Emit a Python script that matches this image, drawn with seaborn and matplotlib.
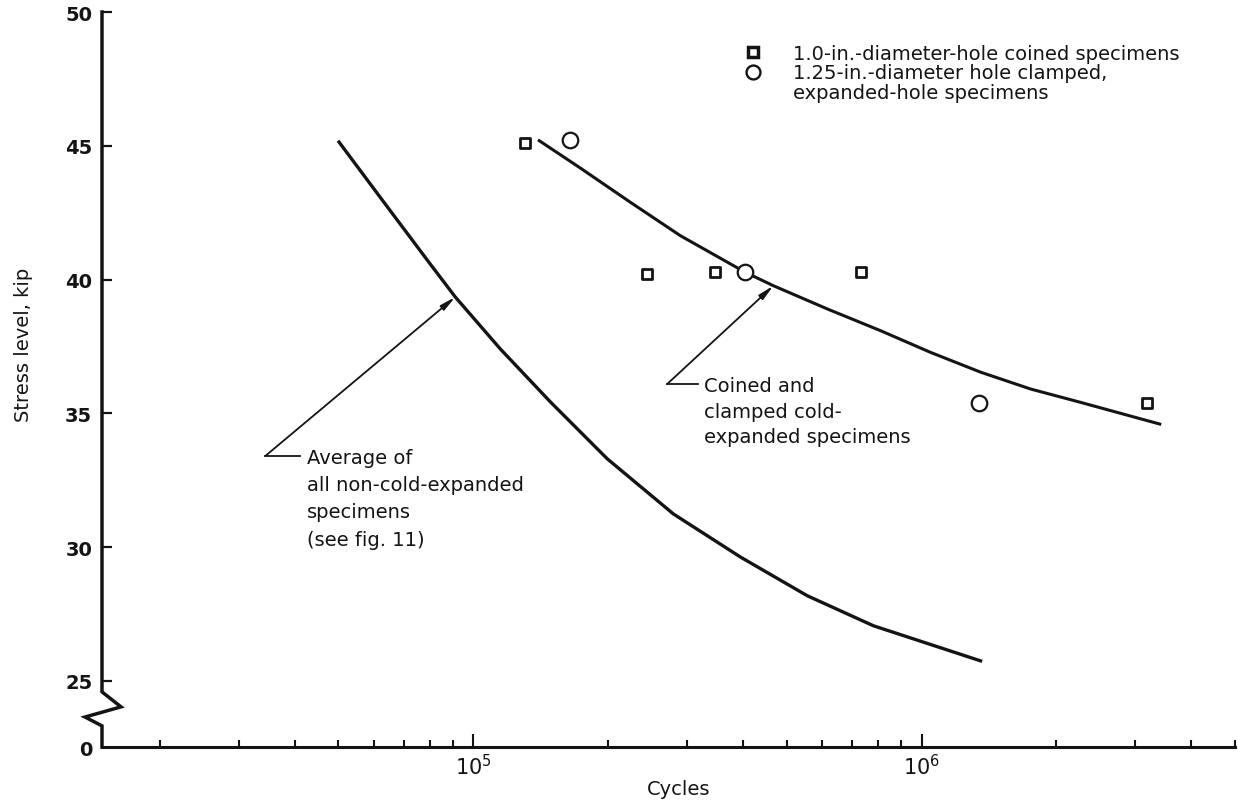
import matplotlib
matplotlib.use("Agg")
import matplotlib.pyplot as plt
import matplotlib.transforms as mtransforms
from matplotlib.lines import Line2D
from matplotlib.ticker import FixedLocator, FixedFormatter, LogLocator, NullFormatter
import seaborn as sns

# ---------------- data ----------------
# Average of all non-cold-expanded specimens (curve)
avg_cycles = [5.02e4, 6.36e4, 8.02e4, 9.12e4, 1.149e5, 1.486e5, 1.991e5,
              2.796e5, 3.945e5, 5.566e5, 7.814e5, 1.354e6]
avg_stress = [45.14, 42.83, 40.58, 39.35, 37.41, 35.43, 33.30,
              31.24, 29.63, 28.18, 27.06, 25.75]

# Coined and clamped cold-expanded specimens (curve)
exp_cycles = [1.404e5, 1.733e5, 2.241e5, 2.898e5, 4.047e5, 4.673e5, 6.168e5,
              8.101e5, 1.047e6, 1.354e6, 1.751e6, 2.264e6, 3.399e6]
exp_stress = [45.19, 44.17, 42.89, 41.64, 40.27, 39.77, 38.90,
              38.09, 37.28, 36.54, 35.91, 35.41, 34.60]

# 1.0-in.-diameter-hole coined specimens (squares)
coined_cycles = [1.306e5, 2.444e5, 3.468e5, 7.31e5, 3.19e6]
coined_stress = [45.10, 40.21, 40.28, 40.30, 35.39]

# 1.25-in.-diameter hole clamped, expanded-hole specimens (circles)
clamped_cycles = [1.646e5, 4.047e5, 1.346e6]
clamped_stress = [45.22, 40.28, 35.39]

y_ticks = [25, 30, 35, 40, 45, 50]
y_tick_labels = ["25", "30", "35", "40", "45", "50"]
x_major_ticks = [1e5, 1e6]
x_major_labels = [r"$\mathdefault{10^{5}}$", r"$\mathdefault{10^{6}}$"]
x_limits = (1.486e4, 5.003e6)
y_limits = (22.53, 50.0)

legend_labels = ["1.0-in.-diameter-hole coined specimens",
                 "1.25-in.-diameter hole clamped,",
                 "expanded-hole specimens"]
avg_note = "Average of\nall non-cold-expanded\nspecimens\n(see fig. 11)"
exp_note = "Coined and\nclamped cold-\nexpanded specimens"
# annotation anchors: (arrow tip on curve), (leader corner), (text start)
avg_tip, avg_corner, avg_bar_end, avg_text = (9.12e4, 39.35), (3.44e4, 33.41), 4.11e4, (4.25e4, 33.71)
exp_tip, exp_corner, exp_bar_end, exp_text = (4.673e5, 39.77), (2.71e5, 36.10), 3.18e5, (3.28e5, 36.40)

# ---------------- figure ----------------
plt.rcParams['font.family'] = ['DejaVu Sans']
INK = '#141414'
W, H = 1238, 803
L, R, B, T = 102, 1235, 748, 13
fig = plt.figure(figsize=(W / 100, H / 100), dpi=100)
ax = fig.add_axes([L / W, (H - B) / H, (R - L) / W, (B - T) / H])
ax.set_xscale('log')

sns.lineplot(x=avg_cycles, y=avg_stress, color=INK, linewidth=2.4,
             sort=False, estimator=None, ax=ax)
sns.lineplot(x=exp_cycles, y=exp_stress, color=INK, linewidth=2.2,
             sort=False, estimator=None, ax=ax)
sns.scatterplot(x=coined_cycles, y=coined_stress, marker='s', s=50,
                color='white', edgecolor=INK, linewidth=2.0, ax=ax, zorder=4)
sns.scatterplot(x=clamped_cycles, y=clamped_stress, marker='o', s=125,
                color='white', edgecolor=INK, linewidth=1.6, ax=ax, zorder=4)

ax.set_xlim(*x_limits)
ax.set_ylim(*y_limits)

# x axis ticks
ax.xaxis.set_major_locator(FixedLocator(x_major_ticks))
ax.xaxis.set_major_formatter(FixedFormatter(x_major_labels))
ax.xaxis.set_minor_locator(LogLocator(base=10, subs=range(2, 10), numticks=30))
ax.xaxis.set_minor_formatter(NullFormatter())
ax.tick_params(axis='x', which='major', direction='in', length=9.5, width=1.5,
               labelsize=15, pad=4, color=INK, labelcolor=INK)
ax.tick_params(axis='x', which='minor', direction='in', length=5, width=1.5, color=INK)

# y axis ticks (broken axis: bottom of axis labelled 0)
ax.yaxis.set_major_locator(FixedLocator([y_limits[0]] + y_ticks))
ax.yaxis.set_major_formatter(FixedFormatter(["0"] + y_tick_labels))
ax.tick_params(axis='y', which='major', direction='in', length=7, width=1.6,
               labelsize=14, pad=7, color=INK, labelcolor=INK)
for lbl in ax.get_yticklabels():
    lbl.set_fontweight('bold')
ax.yaxis.get_major_ticks()[0].tick1line.set_visible(False)

for side in ('top', 'right', 'left'):
    ax.spines[side].set_visible(False)
ax.spines['bottom'].set_linewidth(2.2)
ax.spines['bottom'].set_color(INK)

# custom left spine with break symbol
trans = mtransforms.blended_transform_factory(ax.transAxes, ax.transData)
ax_w = R - L
ax.plot([0, 0, 19 / ax_w, -17 / ax_w, 0, 0],
        [y_limits[1], 24.59, 24.03, 23.65, 23.32, y_limits[0]],
        transform=trans, clip_on=False, color=INK, lw=2.5,
        solid_joinstyle='miter', zorder=5)

# labels
ax.set_ylabel("Stress level, kip", fontsize=14, color=INK)
ax.yaxis.set_label_coords((33 - L) / ax_w, (B - 345) / (B - T))
ax.set_xlabel("Cycles", fontsize=14, color=INK)
ax.xaxis.set_label_coords((679 - L) / ax_w, (B - 780) / (B - T))
ax.xaxis.label.set_va('top')

# annotations
for tip, corner, bar_end, tpos, note, ls in [
        (avg_tip, avg_corner, avg_bar_end, avg_text, avg_note, 1.55),
        (exp_tip, exp_corner, exp_bar_end, exp_text, exp_note, 1.45)]:
    ax.annotate("", xy=tip, xytext=corner,
                arrowprops=dict(arrowstyle='-|>,head_length=0.9,head_width=0.18',
                                color=INK, lw=1.3, shrinkA=0, shrinkB=0))
    ax.plot([corner[0], bar_end], [corner[1], corner[1]], color=INK, lw=1.3)
    ax.text(tpos[0], tpos[1], note, ha='left', va='top', fontsize=14,
            color=INK, linespacing=ls)

# legend
handles = [Line2D([], [], ls='none', marker='s', ms=7, mfc='white', mec=INK, mew=2.5),
           Line2D([], [], ls='none', marker='o', ms=10, mfc='white', mec=INK, mew=1.7),
           Line2D([], [], ls='none')]
ax.legend(handles, legend_labels, loc='upper left',
          bbox_to_anchor=(743 / W, (H - 44.5) / H), bbox_transform=fig.transFigure,
          frameon=False, fontsize=14, handlelength=1.0, handletextpad=1.57,
          labelspacing=0.05, borderpad=0, borderaxespad=0, handleheight=0.7,
          labelcolor=INK)

fig.savefig("out.png", dpi=100, facecolor='white')
